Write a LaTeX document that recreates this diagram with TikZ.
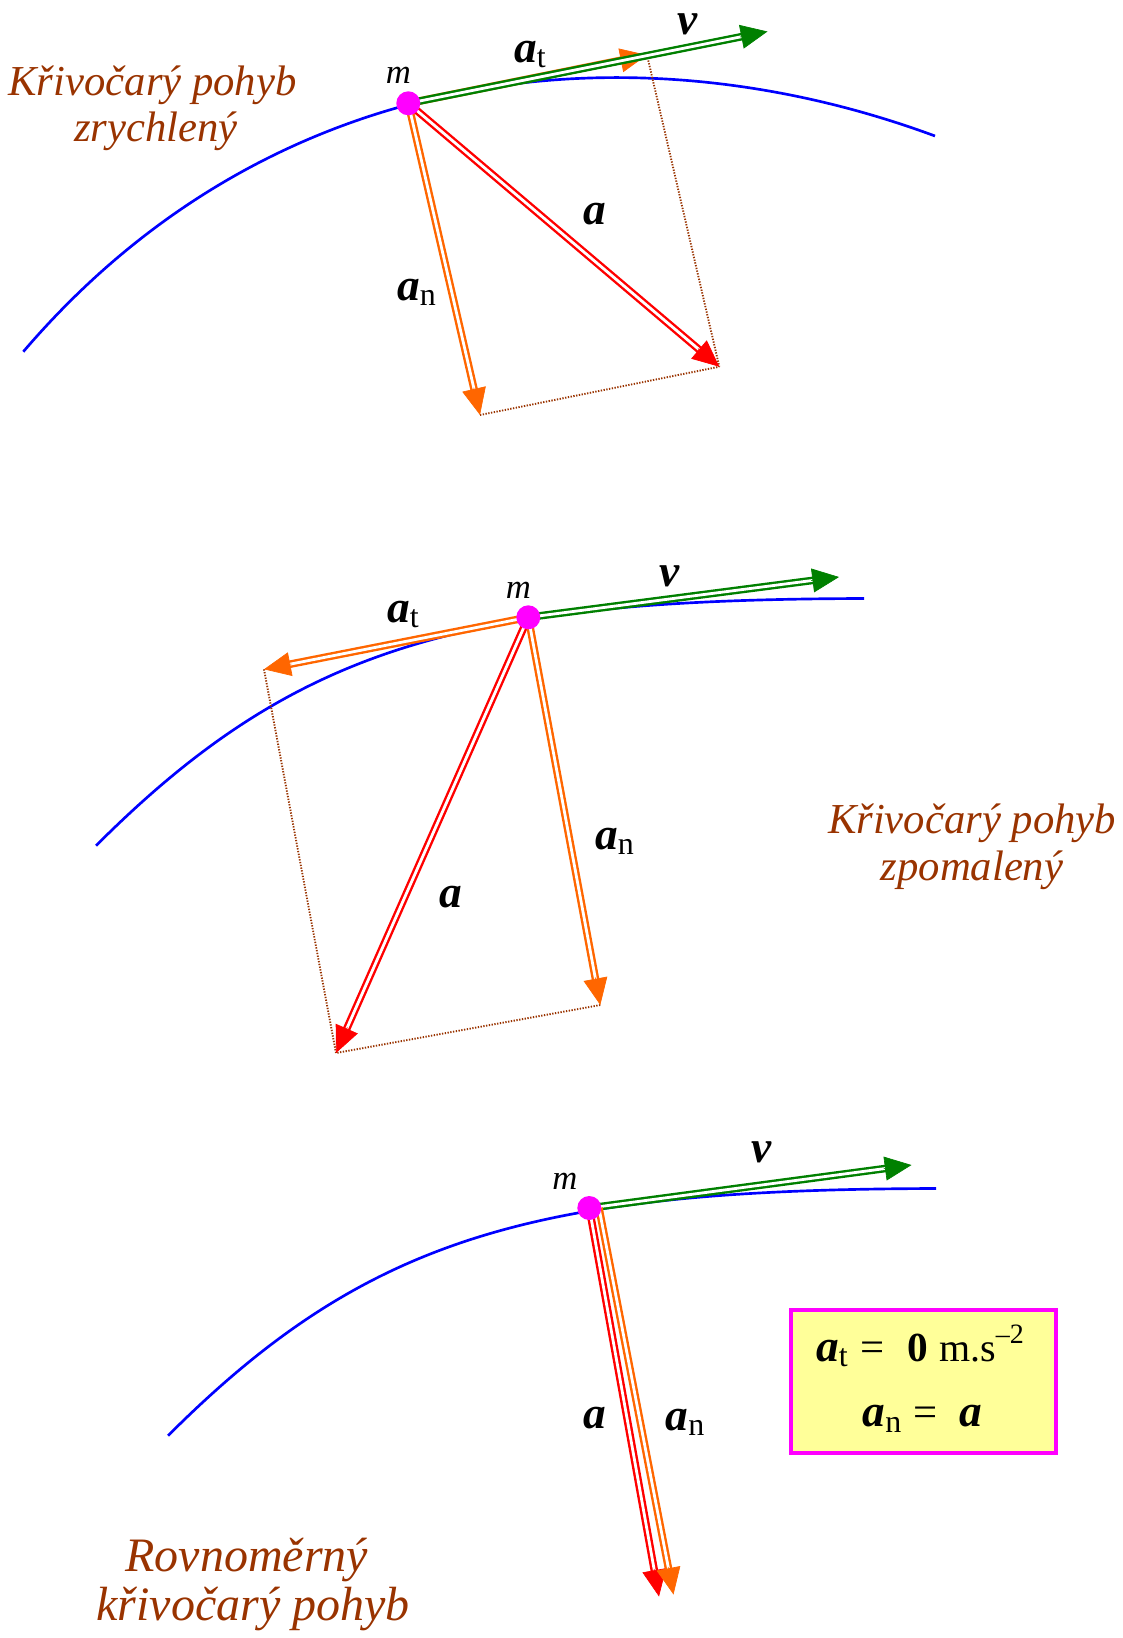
\documentclass[tikz,border=0pt]{standalone}
\usepackage{fontspec}
\setmainfont{Liberation Serif}
\usetikzlibrary{arrows.meta,calc}
\definecolor{curveblue}{HTML}{0000FF}
\definecolor{vgreen}{HTML}{008000}
\definecolor{aorange}{HTML}{FF6600}
\definecolor{ared}{HTML}{FF0000}
\definecolor{dotmag}{HTML}{FF00FF}
\definecolor{txtbrown}{HTML}{993300}
\definecolor{boxfill}{HTML}{FFFF99}
\newcommand\vsym[1]{{\fontsize{34}{34}\selectfont\bfseries\itshape #1}}
\newcommand\vsub[1]{\raisebox{-4pt}{\fontsize{24}{24}\selectfont\normalfont #1}}
\newcommand\vecarrow[3]{%
  \draw[dblline, draw=#1, shorten >=15pt] (#2) -- (#3);
  \draw[#1, line width=0.5pt, -{Triangle[length=20pt,width=18pt]}] ($(#3)!21pt!(#2)$) -- (#3);}
\tikzset{
  trajectory/.style={curveblue, line width=2pt},
  dblline/.style={double=white, line width=1.8pt, double distance=2.1pt},
  guide/.style={txtbrown, line width=1.4pt, dash pattern=on 1pt off 1.1pt},
  massdot/.style={circle, fill=dotmag, minimum size=18pt, inner sep=0pt},
  masslabel/.style={anchor=base, inner sep=0pt, font=\fontsize{26}{26}\selectfont\itshape},
  veclabel/.style={inner sep=0pt},
  caption/.style={anchor=base, inner sep=0pt, text=txtbrown, font=\fontsize{32}{32}\selectfont\itshape},
  bigcaption/.style={anchor=base, inner sep=0pt, text=txtbrown, font=\fontsize{36}{36}\selectfont\itshape},
  boxtext/.style={anchor=base west, inner sep=0pt, font=\fontsize{30}{30}\selectfont},
}
\begin{document}
\begin{tikzpicture}[x=0.75pt, y=-0.75pt]
\useasboundingbox (0,0) rectangle (1122,1638);

% ================= TOP =================
\coordinate (m1) at (408.3,103.3);
\coordinate (v1) at (767.5,31.5);
\coordinate (at1) at (647,55);
\coordinate (an1) at (480,415);
\coordinate (a1) at (719.3,366.7);
\draw[trajectory] (23.3,351.7) .. controls (273.3,59.2) and (635,25) .. (935,136);
\draw[guide] (at1) -- (a1);
\draw[guide] (an1) -- (a1);
\vecarrow{aorange}{m1}{at1}
\vecarrow{vgreen}{m1}{v1}
\vecarrow{aorange}{m1}{an1}
\vecarrow{ared}{m1}{a1}
\node[massdot] (dot1) at (m1) {};
\node[masslabel] (lm1) at (398.3,83.3) {m};
\node[veclabel, anchor=base west] (lat1) at (514,62) {\vsym{a}\vsub{t}};
\node[veclabel, anchor=base] (lv1) at (688,34) {\vsym{v}};
\node[veclabel, anchor=base] (la1) at (594.4,224.7) {\vsym{a}};
\node[veclabel, anchor=base west] (lan1) at (397,300.5) {\vsym{a}\vsub{n}};
\node[caption] (c1a) at (152.5,95) {Křivočarý pohyb};
\node[caption] (c1b) at (155.8,141.7) {zrychlený};

% ================= MIDDLE =================
\coordinate (m2) at (528.3,617.3);
\coordinate (v2) at (839,577);
\coordinate (at2) at (264,669.3);
\coordinate (an2) at (600.3,1005);
\coordinate (a2) at (336,1053);
\draw[trajectory] (96,845.7) .. controls (296,645.7) and (464,599.5) .. (864,598.5);
\draw[guide] (at2) -- (a2);
\draw[guide] (an2) -- (a2);
\vecarrow{aorange}{m2}{at2}
\vecarrow{vgreen}{m2}{v2}
\vecarrow{ared}{m2}{a2}
\vecarrow{aorange}{m2}{an2}
\node[massdot] (dot2) at (m2) {};
\node[masslabel] (lm2) at (518.3,598) {m};
\node[veclabel, anchor=base west] (lat2) at (387,622) {\vsym{a}\vsub{t}};
\node[veclabel, anchor=base] (lv2) at (670,586) {\vsym{v}};
\node[veclabel, anchor=base] (la2) at (451.3,907) {\vsym{a}};
\node[veclabel, anchor=base west] (lan2) at (595,849.5) {\vsym{a}\vsub{n}};
\node[caption] (c2a) at (972,833) {Křivočarý pohyb};
\node[caption] (c2b) at (972,880) {zpomalený};

% ================= BOTTOM =================
\coordinate (m3) at (589.3,1208);
\coordinate (v3) at (911.5,1165);
\coordinate (a3) at (659,1596.5);
\coordinate (an3s) at (599,1208);
\coordinate (an3) at (673.5,1594.5);
\draw[trajectory] (168,1435.7) .. controls (368,1235.7) and (536,1189.5) .. (936,1188.5);
\vecarrow{vgreen}{m3}{v3}
\vecarrow{ared}{m3}{a3}
\vecarrow{aorange}{an3s}{an3}
\node[massdot] (dot3) at (m3) {};
\node[masslabel] (lm3) at (565,1189.5) {m};
\node[veclabel, anchor=base] (lv3) at (762,1162) {\vsym{v}};
\node[veclabel, anchor=base] (la3) at (595,1428.5) {\vsym{a}};
\node[veclabel, anchor=base west] (lan3) at (665.5,1430.5) {\vsym{a}\vsub{n}};
\node[bigcaption] (c3a) at (246.7,1571.7) {Rovnoměrný};
\node[bigcaption] (c3b) at (253,1620) {křivočarý pohyb};

% box
\node[draw=dotmag, line width=3pt, fill=boxfill, minimum width=198.75pt, minimum height=107pt, inner sep=0pt] (box) at (923.8,1381.65) {};
\node[boxtext] (bat) at (816,1361) {\vsym{a}\vsub{t}};
\node[boxtext, font=\fontsize{32}{32}\selectfont] (beq1) at (860,1361) {=};
\node[boxtext, font=\fontsize{31}{31}\selectfont] (bzero) at (907,1361) {\bfseries 0};
\node[boxtext] (bunit) at (939,1361) {m.s\raisebox{13pt}{\fontsize{21}{21}\selectfont –2}};
\node[boxtext] (ban) at (862.5,1426.7) {\vsym{a}\vsub{n}};
\node[boxtext, font=\fontsize{32}{32}\selectfont] (beq2) at (913.5,1426.7) {=};
\node[boxtext] (ba) at (959,1426.7) {\vsym{a}};
\end{tikzpicture}
\end{document}
